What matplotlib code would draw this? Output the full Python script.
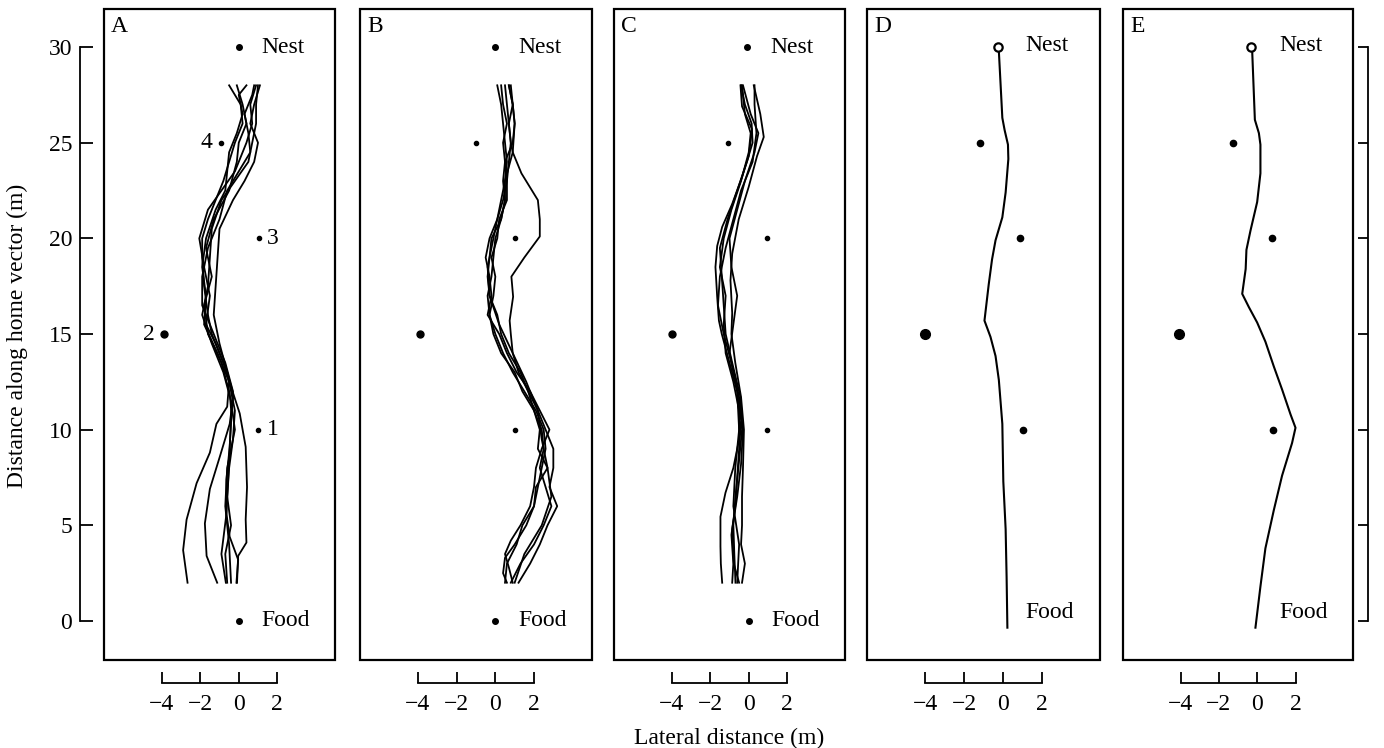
import numpy as np
import matplotlib.pyplot as plt
from matplotlib.patches import Rectangle

plt.rcParams['font.family'] = ['Liberation Serif', 'DejaVu Serif']

# panel letters and axis ticks
panel_letters = ['A', 'B', 'C', 'D', 'E']
y_ticks = [0, 5, 10, 15, 20, 25, 30]
x_ticks = [-4, -2, 0, 2]
x_tick_labels = ['\u22124', '\u22122', '0', '2']

# landmarks (cylinders 1-4)
landmark_y = [10, 15, 20, 25]
landmark_names = ['1', '2', '3', '4']
landmarks_a_x = [1.0, -3.9, 1.03, -0.93]
landmarks_b_x = [1.0, -3.9, 1.04, -0.98]
landmarks_c_x = [0.93, -4.0, 0.93, -1.1]
landmarks_d_x = [1.06, -4.0, 0.89, -1.2]
landmarks_e_x = [0.82, -4.1, 0.75, -1.27]

# nest and food positions (panels A-C)
nest_x = [0.0, 0.0, -0.1]
food_x = [0.0, 0.0, 0.0]

# recorded homing paths, panel A
paths_a_y = [
    [2.0, 3.7, 5.3, 7.2, 8.8, 10.3, 11.2, 12.5, 13.5, 15.0, 16.0, 17.5, 19.0, 20.0, 21.0, 22.0, 23.0, 24.0, 25.0, 26.0, 27.0, 28.0],
    [2.0, 3.4, 5.1, 6.9, 8.6, 10.3, 11.7, 13.0, 14.5, 15.5, 17.0, 18.5, 20.0, 21.5, 22.5, 23.5, 25.0, 26.0, 27.0, 28.0],
    [2.0, 3.5, 5.6, 7.4, 9.1, 10.85, 11.9, 13.5, 15.0, 16.5, 18.0, 19.5, 21.0, 22.5, 24.0, 25.0, 26.0, 27.0, 28.0],
    [2.0, 3.4, 4.1, 5.3, 7.0, 9.1, 10.85, 11.9, 13.0, 14.5, 16.0, 17.5, 19.0, 20.5, 22.0, 23.0, 24.0, 25.0, 26.0, 27.0, 28.0],
    [2.0, 3.2, 4.4, 5.6, 7.4, 9.1, 10.85, 12.0, 13.5, 15.0, 16.5, 18.0, 19.5, 21.0, 22.5, 23.5, 24.5, 25.5, 26.5, 27.5, 28.0],
    [2.0, 3.5, 5.0, 6.5, 8.0, 9.5, 11.0, 12.5, 14.0, 15.5, 17.0, 18.5, 20.0, 21.5, 22.5, 23.5, 24.5, 25.5, 26.5, 27.5, 28.0],
    [2.0, 4.0, 6.0, 8.0, 10.0, 11.5, 13.0, 14.5, 16.0, 17.5, 19.0, 20.5, 22.0, 23.0, 24.0, 25.0, 26.0, 27.0, 28.0],
]
paths_a_x = [
    [-2.66, -2.89, -2.71, -2.19, -1.5, -1.16, -0.6, -0.5, -0.8, -1.4, -1.6, -1.8, -1.9, -1.9, -1.6, -1.2, -0.8, -0.5, -0.2, 0.2, 0.1, -0.5],
    [-1.12, -1.67, -1.76, -1.5, -0.98, -0.47, -0.29, -0.6, -1.2, -1.7, -1.5, -1.8, -2.05, -1.6, -0.9, -0.2, 0.4, 0.7, 0.6, 0.9],
    [-0.67, -0.9, -0.64, -0.64, -0.47, -0.38, -0.47, -0.9, -1.6, -1.8, -1.4, -1.7, -1.3, -0.5, -0.1, 0.0, 0.4, 0.2, -0.1],
    [-0.09, -0.03, 0.4, 0.36, 0.43, 0.36, 0.05, -0.29, -0.6, -1.0, -1.3, -1.2, -1.1, -1.0, -0.3, 0.3, 0.8, 1.0, 0.6, 0.8, 1.1],
    [-0.12, -0.03, -0.47, -0.64, -0.55, -0.47, -0.38, -0.3, -0.7, -1.3, -1.9, -1.9, -1.6, -1.0, -0.6, 0.0, 0.6, 0.5, 0.3, 0.7, 0.8],
    [-0.6, -0.7, -0.4, -0.6, -0.5, -0.3, -0.2, -0.5, -1.1, -1.8, -1.7, -1.9, -1.7, -1.2, -0.7, -0.6, -0.5, -0.1, 0.2, 0.0, 0.4],
    [-0.4, -0.5, -0.7, -0.6, -0.2, -0.4, -0.8, -1.4, -1.9, -1.6, -1.5, -1.4, -0.9, -0.2, 0.5, 0.7, 0.9, 0.9, 1.0],
]

# panel B
paths_b_y = [
    [2.0, 2.5, 3.3, 4.0, 5.0, 6.0, 7.0, 8.0, 9.0, 10.0, 11.0, 12.0, 13.0, 14.0, 15.0, 16.0, 17.0, 18.0, 19.0, 20.0, 21.0, 22.0, 23.0, 24.0, 25.0, 26.0, 27.0, 28.0],
    [2.0, 3.0, 4.0, 5.0, 6.0, 7.0, 8.0, 9.0, 10.0, 11.0, 12.0, 13.0, 14.0, 15.0, 15.7, 16.95, 18.0, 19.0, 20.1, 21.0, 22.0, 23.4, 24.5, 25.0, 26.0, 27.0, 28.0],
    [2.0, 2.8, 3.5, 4.2, 5.0, 6.0, 7.0, 8.0, 9.0, 10.0, 11.0, 12.0, 13.0, 14.0, 15.0, 16.0, 17.0, 18.0, 19.0, 20.0, 21.0, 22.0, 23.0, 24.0, 25.0, 26.0, 27.0, 28.0],
    [2.0, 3.0, 4.0, 5.0, 6.0, 7.0, 8.0, 9.0, 10.0, 11.0, 12.0, 13.0, 14.0, 15.0, 16.0, 17.0, 18.0, 19.0, 20.0, 21.0, 22.0, 23.0, 24.0, 25.0, 26.0, 27.0, 28.0],
    [2.0, 3.0, 4.0, 5.0, 6.0, 7.0, 8.0, 9.0, 10.0, 11.0, 12.0, 13.0, 14.0, 15.0, 16.0, 17.0, 18.0, 19.0, 20.0, 21.0, 22.0, 23.0, 24.0, 25.0, 26.0, 27.0, 28.0],
    [2.0, 3.5, 5.0, 6.5, 8.0, 9.5, 11.0, 12.5, 14.0, 15.5, 17.0, 18.5, 20.0, 21.5, 23.0, 24.5, 26.0, 27.0, 28.0],
]
paths_b_x = [
    [0.6, 0.4, 0.5, 1.0, 1.6, 2.0, 2.2, 2.4, 2.6, 2.5, 2.1, 1.5, 0.9, 0.4, 0.0, -0.3, -0.4, -0.2, -0.1, 0.0, 0.3, 0.5, 0.5, 0.6, 0.5, 0.4, 0.3, 0.1],
    [1.2, 1.8, 2.3, 2.7, 3.2, 2.8, 3.0, 3.0, 2.6, 2.2, 1.7, 1.2, 0.9, 0.8, 0.74, 0.92, 0.83, 1.5, 2.3, 2.3, 2.2, 1.35, 0.9, 0.8, 0.7, 0.6, 0.5],
    [0.9, 0.7, 0.5, 0.8, 1.3, 1.8, 2.0, 2.1, 2.4, 2.8, 2.3, 1.8, 1.1, 0.6, 0.2, -0.4, -0.2, -0.3, -0.5, -0.3, 0.1, 0.4, 0.6, 0.7, 0.8, 0.7, 0.9, 0.8],
    [0.8, 1.3, 2.0, 2.5, 2.9, 2.6, 2.3, 2.5, 2.4, 2.0, 1.4, 1.0, 0.3, -0.1, -0.3, -0.1, 0.0, -0.2, 0.1, 0.2, 0.6, 0.6, 0.5, 0.9, 1.0, 0.9, 0.7],
    [0.5, 0.6, 1.1, 1.4, 2.0, 2.1, 2.7, 2.2, 2.3, 2.0, 1.7, 1.3, 0.7, 0.3, 0.1, -0.3, -0.4, -0.3, -0.2, 0.3, 0.5, 0.4, 0.5, 0.4, 0.6, 0.4, 0.3],
    [1.0, 1.5, 2.4, 2.9, 2.7, 2.4, 2.2, 1.6, 0.9, 0.2, -0.3, -0.4, -0.1, 0.2, 0.5, 0.9, 1.0, 0.9, 0.7],
]

# panel C
paths_c_y = [
    [2.0, 3.0, 4.0, 5.0, 6.5, 8.0, 10.0, 11.7, 13.5, 15.0, 16.1, 17.8, 19.2, 21.0, 22.7, 24.3, 25.3, 26.5, 28.0],
    [2.0, 3.0, 4.5, 6.0, 7.5, 9.0, 10.5, 12.0, 13.5, 15.0, 15.7, 16.95, 18.5, 19.6, 20.6, 21.8, 23.2, 24.3, 25.7, 26.9, 28.0],
    [2.0, 3.0, 3.9, 5.45, 6.7, 8.0, 9.5, 11.0, 12.5, 14.0, 15.5, 17.0, 18.5, 20.0, 21.5, 23.0, 24.5, 25.5, 26.5, 28.0],
    [2.0, 3.5, 5.0, 6.5, 8.2, 10.0, 11.7, 13.5, 15.0, 16.5, 18.0, 19.5, 21.0, 22.5, 24.0, 25.0, 26.0, 27.0, 28.0],
    [2.0, 3.0, 4.8, 6.5, 8.2, 10.0, 11.7, 13.5, 15.0, 16.5, 18.0, 19.5, 21.0, 22.5, 24.0, 25.5, 27.0, 28.0],
    [2.0, 4.0, 6.0, 8.0, 10.0, 12.0, 14.0, 15.5, 17.0, 18.5, 20.0, 21.5, 23.0, 24.5, 25.5, 26.5, 28.0],
]
paths_c_x = [
    [-0.35, -0.2, -0.4, -0.35, -0.35, -0.3, -0.25, -0.4, -0.7, -0.9, -0.86, -0.95, -0.86, -0.52, 0.0, 0.43, 0.78, 0.6, 0.26],
    [-0.86, -0.8, -0.9, -0.7, -0.6, -0.5, -0.4, -0.6, -1.0, -1.4, -1.55, -1.64, -1.73, -1.64, -1.38, -0.86, -0.35, 0.0, 0.17, -0.35, -0.43],
    [-1.38, -1.45, -1.47, -1.47, -1.21, -0.8, -0.5, -0.5, -0.8, -1.2, -1.3, -1.2, -1.5, -1.3, -0.9, -0.4, 0.0, 0.1, -0.2, -0.35],
    [-0.69, -0.75, -0.8, -0.69, -0.52, -0.35, -0.43, -0.86, -1.2, -1.3, -1.4, -1.5, -1.1, -0.6, -0.1, 0.2, 0.15, -0.2, -0.4],
    [-0.5, -0.78, -0.86, -0.6, -0.4, -0.3, -0.5, -0.9, -1.3, -1.6, -1.5, -1.2, -0.8, -0.4, 0.2, 0.4, 0.3, 0.3],
    [-0.6, -0.5, -0.8, -0.7, -0.5, -0.6, -1.0, -0.8, -0.6, -0.9, -1.0, -0.6, -0.2, 0.3, 0.5, 0.1, -0.3],
]

# model paths, panels D and E (food -> nest)
path_d_x = [0.23, 0.19, 0.14, 0.02, -0.03, -0.21, -0.38, -0.64, -0.95, -0.73, -0.56, -0.38, -0.03, 0.14, 0.28, 0.26, 0.09, -0.03, -0.21, -0.26]
path_d_y = [-0.35, 2.3, 4.8, 7.3, 10.3, 12.6, 13.85, 14.85, 15.7, 17.6, 18.9, 19.9, 21.1, 22.4, 24.15, 24.9, 25.65, 26.3, 29.8, 30.0]
path_e_x = [-0.09, 0.17, 0.43, 0.87, 1.3, 1.82, 2.0, 1.74, 1.3, 0.87, 0.43, 0.0, -0.43, -0.78, -0.6, -0.56, -0.35, 0.0, 0.17, 0.17, 0.09, -0.12, -0.26, -0.3]
path_e_y = [-0.35, 1.8, 3.8, 5.8, 7.6, 9.3, 10.1, 10.8, 12.1, 13.3, 14.6, 15.6, 16.4, 17.1, 18.4, 19.4, 20.4, 21.9, 23.4, 24.9, 25.5, 26.2, 29.8, 30.0]

FS = 17
W, H = 1384, 748
fig = plt.figure(figsize=(W / 100, H / 100), dpi=100)

# box positions in pixels (left, right), top/bottom shared
box_lr = [(104, 335), (360, 592), (614, 845), (867, 1100), (1123, 1353)]
box_top, box_bot = 9, 660

axes = []
for (l, r) in box_lr:
    ax = fig.add_axes([l / W, 1 - box_bot / H, (r - l) / W, (box_bot - box_top) / H])
    ax.set_xlim(-7, 5)
    ax.set_ylim(-2.04, 31.99)
    for s in ax.spines.values():
        s.set_visible(False)
    ax.add_patch(Rectangle((0, 0), 1, 1, transform=ax.transAxes, fill=False,
                           lw=1.6, ec='black', clip_on=False))
    # lateral scale bar below each box
    ax.spines['bottom'].set_visible(True)
    ax.spines['bottom'].set_position(('outward', 16.5))
    ax.spines['bottom'].set_bounds(-4, 2)
    ax.spines['bottom'].set_linewidth(1.3)
    ax.set_xticks(x_ticks, x_tick_labels)
    ax.tick_params(axis='x', direction='in', length=8, width=1.3, pad=8, labelsize=FS)
    ax.set_yticks([])
    axes.append(ax)

# panel letters
for ax, letter in zip(axes, panel_letters):
    ax.text(0.03, 0.99, letter, transform=ax.transAxes, ha='left', va='top', fontsize=FS)

# panels A-C: recorded paths
all_paths = [(paths_a_x, paths_a_y), (paths_b_x, paths_b_y), (paths_c_x, paths_c_y)]
all_landmarks = [landmarks_a_x, landmarks_b_x, landmarks_c_x, landmarks_d_x, landmarks_e_x]
for i in range(3):
    ax = axes[i]
    px, py = all_paths[i]
    for x, y in zip(px, py):
        ax.plot(x, y, color='black', lw=1.3, solid_joinstyle='round')
    ax.plot(all_landmarks[i], landmark_y, 'o', color='black', ms=3)
    ax.plot(all_landmarks[i][1], landmark_y[1], 'o', color='black', ms=5)
    ax.plot([nest_x[i], food_x[i]], [30, 0], 'o', color='black', ms=4)
    ax.text(nest_x[i] + 1.2, 30, 'Nest', ha='left', va='center', fontsize=FS)
    ax.text(food_x[i] + 1.2, 0, 'Food', ha='left', va='center', fontsize=FS)

# landmark numbers in panel A
ax = axes[0]
for name, x, y in zip(landmark_names, landmarks_a_x, landmark_y):
    if x < 0:
        ax.text(x - 0.45, y, name, ha='right', va='center', fontsize=FS)
    else:
        ax.text(x + 0.45, y, name, ha='left', va='center', fontsize=FS)

# panels D and E: model paths
for ax, x, y, lm in [(axes[3], path_d_x, path_d_y, landmarks_d_x),
                     (axes[4], path_e_x, path_e_y, landmarks_e_x)]:
    ax.plot(x, y, color='black', lw=1.5)
    ax.plot(x[-1], y[-1], 'o', ms=6, mfc='white', mec='black', mew=1.6)
    ax.plot(lm, landmark_y, 'o', color='black', ms=4.5)
    ax.plot(lm[1], landmark_y[1], 'o', color='black', ms=7)
    ax.text(1.15, 30.1, 'Nest', ha='left', va='center', fontsize=FS)
    ax.text(1.15, 0.45, 'Food', ha='left', va='center', fontsize=FS)

# distance axis on the left of A
ax = axes[0]
ax.spines['left'].set_visible(True)
ax.spines['left'].set_position(('outward', 17))
ax.spines['left'].set_bounds(0, 30)
ax.spines['left'].set_linewidth(1.3)
ax.set_yticks(y_ticks)
ax.tick_params(axis='y', direction='in', length=9, width=1.3, pad=6, labelsize=FS)

# bare scale on the right of E
ax = axes[4]
ax.spines['right'].set_visible(True)
ax.spines['right'].set_position(('outward', 11))
ax.spines['right'].set_bounds(0, 30)
ax.spines['right'].set_linewidth(1.3)
ax.yaxis.tick_right()
ax.set_yticks(y_ticks)
ax.tick_params(axis='y', direction='in', length=7, width=1.3, labelright=False)

fig.text(17 / W, 1 - 336 / H, 'Distance along home vector (m)', rotation=90,
         ha='center', va='center', fontsize=FS)
fig.text(729 / W, 1 - 738 / H, 'Lateral distance (m)', ha='center', va='center', fontsize=FS)

fig.savefig('out.png', dpi=100)
